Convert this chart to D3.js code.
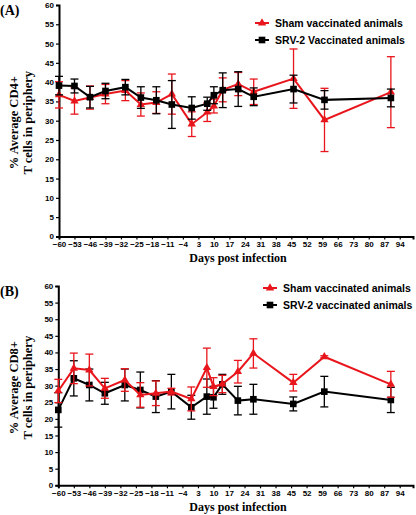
<!DOCTYPE html>
<html><head><meta charset="utf-8">
<script src="https://cdn.jsdelivr.net/npm/d3@7"></script>
<style>body{margin:0;background:#fff}svg{display:block}</style>
</head><body>
<svg id="c" width="416" height="515"></svg>
<script>
const days = [-60,-53,-46,-39,-30,-23,-16,-9,0,7,10,14,21,28,46,60,90];
const xTicks = [-60,-53,-46,-39,-32,-25,-18,-11,-4,3,10,17,24,31,38,45,52,59,66,73,80,87,94];
const yTicks = [0,5,10,15,20,25,30,35,40,45,50,55,60];

const cd4Sham    = [36.7,35.1,36.0,36.9,37.8,34.2,34.7,36.9,29.1,32.2,33.8,38.0,39.5,37.5,40.9,30.2,37.4];
const cd4ShamErr = [3.4,3.4,3.0,2.5,2.6,3.0,2.8,5.2,3.2,2.4,1.8,3.1,3.0,3.3,7.7,8.2,9.2];
const cd4Srv     = [39.1,39.0,36.1,37.7,38.7,36.0,35.3,34.2,33.3,34.4,36.6,37.9,38.2,36.2,38.2,35.4,35.9];
const cd4SrvErr  = [2.4,1.8,2.8,2.0,2.0,2.8,3.5,6.2,2.9,1.7,2.2,4.5,4.5,2.3,3.6,2.4,2.3];

const cd8Sham    = [28.4,35.2,34.7,29.2,31.7,27.2,27.7,28.2,26.0,35.4,29.7,30.5,34.2,39.7,30.9,38.7,30.4];
const cd8ShamErr = [3.5,4.6,4.8,3.0,3.4,3.7,3.7,1.0,3.6,5.9,2.7,2.6,3.4,4.4,2.5,0.3,3.9];
const cd8Srv     = [22.7,32.2,30.2,27.7,30.2,28.7,26.7,28.2,23.5,26.7,26.5,30.4,25.5,25.9,24.5,28.2,25.7];
const cd8SrvErr  = [5.2,5.3,4.8,3.3,4.8,5.4,4.8,5.2,3.6,5.3,3.3,3.0,4.3,4.5,2.1,4.6,3.8];

const RED = "#e8161c", BLACK = "#000";
const svg = d3.select("#c");

function panel(opt){
  const g = svg.append("g");
  const x = d3.scaleLinear().domain([-60,100]).range([opt.left, 413]);
  const y = d3.scaleLinear().domain([0,60]).range([opt.bottom, opt.top]);

  const yAx = g.append("g").attr("transform",`translate(${opt.left},0)`)
    .call(d3.axisLeft(y).tickValues(yTicks).tickSize(3).tickPadding(2));
  const xAx = g.append("g").attr("transform",`translate(0,${opt.bottom})`)
    .call(d3.axisBottom(x).tickValues(xTicks).tickSize(3).tickPadding(2));
  [xAx,yAx].forEach(a=>{
    a.select(".domain").attr("stroke","#000").attr("stroke-width",2);
    a.selectAll(".tick line").attr("stroke","#000").attr("stroke-width",1.2);
    a.selectAll("text").attr("font-family","Liberation Sans, Arial, sans-serif")
      .attr("font-weight","bold").attr("font-size","8px").attr("fill","#000");
  });

  g.append("text").attr("x",238).attr("y",opt.bottom+26)
    .attr("text-anchor","middle").attr("font-family","Liberation Serif, Times New Roman, serif")
    .attr("font-weight","bold").attr("font-size","12px").text("Days post infection");

  const cy = (opt.top+opt.bottom)/2 + 2;
  const yt = g.append("text").attr("transform",`translate(18,${cy}) rotate(-90)`)
    .attr("text-anchor","middle").attr("font-family","Liberation Serif, Times New Roman, serif")
    .attr("font-weight","bold").attr("font-size","12.5px");
  yt.append("tspan").attr("x",0).attr("dy",0).text(opt.ytitle1);
  yt.append("tspan").attr("x",0).attr("dy",14).text("T cells in periphery");

  g.append("text").attr("x",0).attr("y",opt.top+10)
    .attr("font-family","Liberation Serif, Times New Roman, serif")
    .attr("font-weight","bold").attr("font-size","14px").text(opt.label);

  const line = d3.line().x(d=>x(d.d)).y(d=>y(d.v));
  function series(vals, errs, color, marker){
    const data = days.map((d,i)=>({d, v:vals[i], e:errs[i]}));
    const s = g.append("g");
    s.selectAll("line.eb").data(data).enter().append("line")
      .attr("x1",d=>x(d.d)).attr("x2",d=>x(d.d))
      .attr("y1",d=>y(d.v+d.e)).attr("y2",d=>y(d.v-d.e))
      .attr("stroke",color).attr("stroke-width",1.3);
    [1,-1].forEach(sg=>{
      s.selectAll(null).data(data).enter().append("line")
        .attr("x1",d=>x(d.d)-4).attr("x2",d=>x(d.d)+4)
        .attr("y1",d=>y(d.v+sg*d.e)).attr("y2",d=>y(d.v+sg*d.e))
        .attr("stroke",color).attr("stroke-width",1.3);
    });
    s.append("path").datum(data).attr("d",line).attr("fill","none")
      .attr("stroke",color).attr("stroke-width",2);
    const sym = d3.symbol().type(marker==="tri"?d3.symbolTriangle:d3.symbolSquare)
      .size(marker==="tri"?30:44);
    s.selectAll("path.m").data(data).enter().append("path")
      .attr("transform",d=>`translate(${x(d.d)},${y(d.v)})`)
      .attr("d",sym).attr("fill",color);
  }
  if(opt.redFirst){
    series(opt.sham, opt.shamErr, RED, "tri");
    series(opt.srv, opt.srvErr, BLACK, "sq");
  } else {
    series(opt.srv, opt.srvErr, BLACK, "sq");
    series(opt.sham, opt.shamErr, RED, "tri");
  }

  // legend
  const lg = g.append("g");
  const items = [{t:"Sham vaccinated animals", c:RED, m:"tri"},{t:opt.srvLabel, c:BLACK, m:"sq"}];
  items.forEach((it,i)=>{
    const ly = opt.legY + i*17;
    lg.append("line").attr("x1",opt.legX).attr("x2",opt.legX+14).attr("y1",ly).attr("y2",ly)
      .attr("stroke",it.c).attr("stroke-width",2);
    lg.append("path").attr("transform",`translate(${opt.legX+7},${ly})`)
      .attr("d",d3.symbol().type(it.m==="tri"?d3.symbolTriangle:d3.symbolSquare).size(it.m==="tri"?30:44)())
      .attr("fill",it.c);
    lg.append("text").attr("x",opt.legX+20).attr("y",ly+3.5)
      .attr("font-family","Liberation Sans, Arial, sans-serif").attr("font-weight","bold")
      .attr("font-size","10.5px").text(it.t);
  });
}

panel({top:5, bottom:236.4, left:59, label:"(A)", ytitle1:"% Average  CD4+",
  sham:cd4Sham, shamErr:cd4ShamErr, srv:cd4Srv, srvErr:cd4SrvErr,
  srvLabel:"SRV-2 Vaccinated animals", legX:255, legY:23, redFirst:true});
panel({top:286, bottom:485.3, left:58.3, label:"(B)", ytitle1:"% Average CD8+",
  sham:cd8Sham, shamErr:cd8ShamErr, srv:cd8Srv, srvErr:cd8SrvErr,
  srvLabel:"SRV-2 vaccinated animals", legX:263, legY:288, redFirst:false});
</script>
</body></html>
